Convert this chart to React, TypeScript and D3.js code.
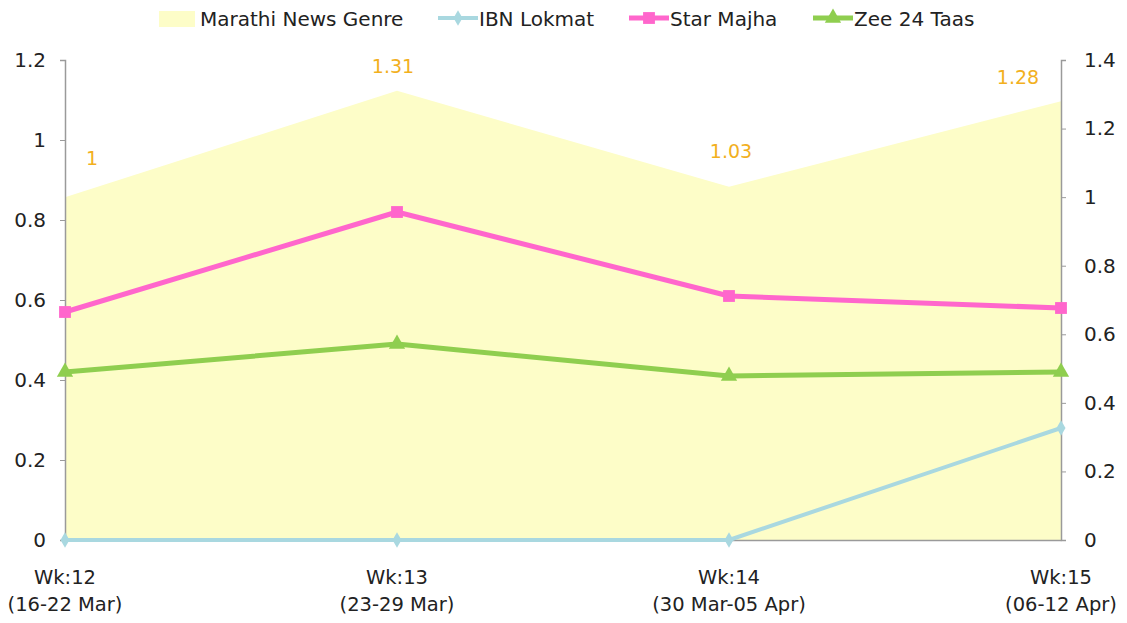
import React, { useEffect, useRef } from 'react';
import * as d3 from 'd3';

const WEEKS = ["Wk:12", "Wk:13", "Wk:14", "Wk:15"];
const RANGES = ["(16-22 Mar)", "(23-29 Mar)", "(30 Mar-05 Apr)", "(06-12 Apr)"];

const genre = [1, 1.31, 1.03, 1.28];
const ibnLokmat = [0, 0, 0, 0.28];
const starMajha = [0.57, 0.82, 0.61, 0.58];
const zee24Taas = [0.42, 0.49, 0.41, 0.42];

const LEFT_TICKS = [0, 0.2, 0.4, 0.6, 0.8, 1, 1.2];
const RIGHT_TICKS = [0, 0.2, 0.4, 0.6, 0.8, 1, 1.2, 1.4];

const App = () => {
    const svgRef = useRef(null);
    const width = 1127;
    const height = 623;
    const margin = { top: 60, right: 66, bottom: 83, left: 65 };
    const font = "'DejaVu Sans', sans-serif";

    useEffect(() => {
        const svg = d3.select(svgRef.current);
        svg.selectAll("*").remove();

        const x = d3.scalePoint()
            .domain(WEEKS)
            .range([margin.left, width - margin.right]);
        const yLeft = d3.scaleLinear().domain([0, 1.2]).range([height - margin.bottom, margin.top]);
        const yRight = d3.scaleLinear().domain([0, 1.4]).range([height - margin.bottom, margin.top]);

        // area series (right axis)
        const area = d3.area()
            .x((d, i) => x(WEEKS[i]))
            .y0(yRight(0))
            .y1(d => yRight(d));
        svg.append("path")
            .datum(genre)
            .attr("d", area)
            .attr("fill", "#FDFDC8");

        // axes
        const fmt = d => String(+d.toFixed(1));
        const leftAxis = svg.append("g")
            .attr("transform", "translate(" + margin.left + ",0)")
            .call(d3.axisLeft(yLeft).tickValues(LEFT_TICKS).tickFormat(fmt).tickSize(5).tickPadding(14));
        const rightAxis = svg.append("g")
            .attr("transform", "translate(" + (width - margin.right) + ",0)")
            .call(d3.axisRight(yRight).tickValues(RIGHT_TICKS).tickFormat(fmt).tickSize(5).tickPadding(18));
        const bottomAxis = svg.append("g")
            .attr("transform", "translate(0," + yLeft(0) + ")")
            .call(d3.axisBottom(x).tickSize(0).tickFormat(() => ""));
        [leftAxis, rightAxis, bottomAxis].forEach(g => {
            g.select(".domain").attr("stroke", "#9a9a9a").attr("stroke-width", 1.5);
            g.selectAll(".tick line").attr("stroke", "#9a9a9a");
            g.selectAll("text")
                .attr("font-family", font)
                .attr("font-size", 20)
                .attr("fill", "#222");
        });

        // x labels, two lines
        const xl = svg.append("g");
        WEEKS.forEach((w, i) => {
            const t = xl.append("text")
                .attr("x", x(w))
                .attr("y", 584)
                .attr("text-anchor", "middle")
                .attr("font-family", font)
                .attr("font-size", 19.5)
                .attr("fill", "#222");
            t.append("tspan").attr("x", x(w)).text(w);
            t.append("tspan").attr("x", x(w)).attr("dy", 27).text(RANGES[i]);
        });

        // lines (left axis)
        const line = d3.line()
            .x((d, i) => x(WEEKS[i]))
            .y(d => yLeft(d));

        const series = [
            { data: ibnLokmat, color: "#A9D8E0", marker: "diamond", w: 4 },
            { data: starMajha, color: "#FF66CC", marker: "square", w: 5 },
            { data: zee24Taas, color: "#8FCE4F", marker: "triangle", w: 5 },
        ];

        const symbols = {
            diamond: d3.symbol().type(d3.symbolDiamond).size(70),
            square: d3.symbol().type(d3.symbolSquare).size(140),
            triangle: d3.symbol().type(d3.symbolTriangle).size(115),
        };

        series.forEach(s => {
            svg.append("path")
                .datum(s.data)
                .attr("d", line)
                .attr("fill", "none")
                .attr("stroke", s.color)
                .attr("stroke-width", s.w)
                .attr("stroke-linejoin", "round");
            svg.append("g")
                .selectAll("path")
                .data(s.data)
                .enter().append("path")
                .attr("transform", (d, i) => "translate(" + x(WEEKS[i]) + "," + yLeft(d) + ")")
                .attr("d", symbols[s.marker])
                .attr("fill", s.color);
        });

        // data labels of genre area
        const labelOffsets = [[27, -32], [-4, -18], [2, -29], [-43, -17]];
        svg.append("g")
            .selectAll("text")
            .data(genre)
            .enter().append("text")
            .attr("x", (d, i) => x(WEEKS[i]) + labelOffsets[i][0])
            .attr("y", (d, i) => yRight(d) + labelOffsets[i][1])
            .attr("text-anchor", "middle")
            .attr("font-family", font)
            .attr("font-size", 19)
            .attr("fill", "#F2B01E")
            .text(d => String(d));

        // legend
        const legend = svg.append("g").attr("font-family", font).attr("font-size", 20).attr("fill", "#222");
        legend.append("rect")
            .attr("x", 159).attr("y", 11).attr("width", 36).attr("height", 16)
            .attr("fill", "#FDFDC8");
        legend.append("text").attr("x", 200).attr("y", 26).text("Marathi News Genre");

        const legendItems = [
            { x: 438, label: "IBN Lokmat", s: series[0] },
            { x: 629, label: "Star Majha", s: series[1] },
            { x: 813, label: "Zee 24 Taas", s: series[2] },
        ];
        legendItems.forEach(it => {
            legend.append("line")
                .attr("x1", it.x).attr("x2", it.x + 40)
                .attr("y1", 18).attr("y2", 18)
                .attr("stroke", it.s.color)
                .attr("stroke-width", it.s.w);
            legend.append("path")
                .attr("transform", "translate(" + (it.x + 20) + ",18)")
                .attr("d", symbols[it.s.marker])
                .attr("fill", it.s.color);
            legend.append("text").attr("x", it.x + 41).attr("y", 26).text(it.label);
        });
    }, []);

    return <svg ref={svgRef} width={width} height={height}
        style={{ position: 'absolute', left: 0, top: 0, background: '#fff' }} />;
};

export default App;
